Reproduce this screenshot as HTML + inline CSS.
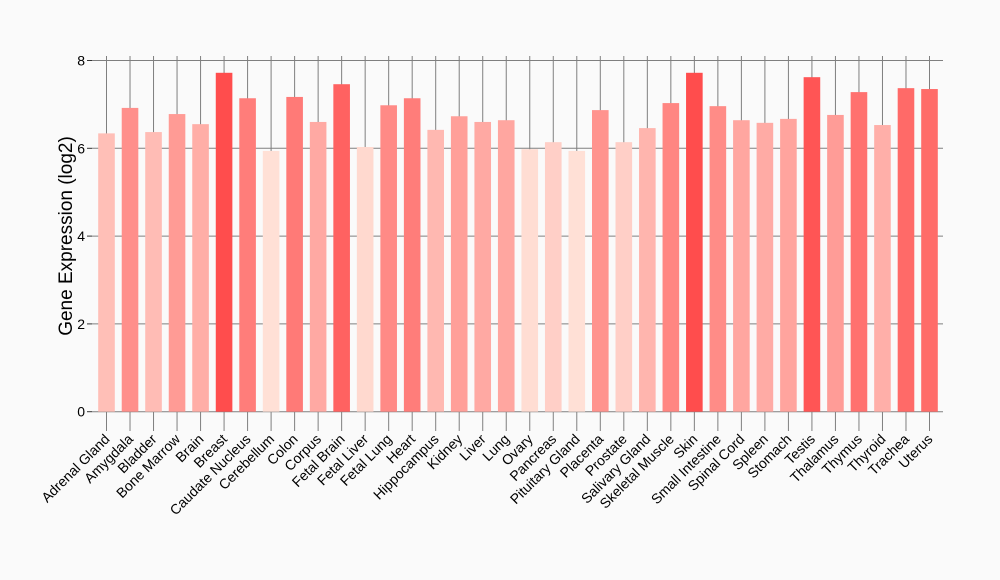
<!DOCTYPE html>
<html><head><meta charset="utf-8"><style>
html,body{margin:0;padding:0;background:#fafafa;}
svg{display:block;font-family:"Liberation Sans",Arial,sans-serif;}
</style></head><body>
<svg id="chart" width="1000" height="580">
<rect width="1000" height="580" fill="#fafafa"/>
<g id="grid"></g>
<g id="bars"></g>
<g id="yaxis"></g>
<g id="xaxis"></g>
<text x="72" y="236" transform="rotate(-90 72 236)" text-anchor="middle" font-size="19" fill="#000">Gene Expression (log2)</text>
</svg>
<script>
const categories=["Adrenal Gland","Amygdala","Bladder","Bone Marrow","Brain","Breast","Caudate Nucleus","Cerebellum","Colon","Corpus","Fetal Brain","Fetal Liver","Fetal Lung","Heart","Hippocampus","Kidney","Liver","Lung","Ovary","Pancreas","Pituitary Gland","Placenta","Prostate","Salivary Gland","Skeletal Muscle","Skin","Small Intestine","Spinal Cord","Spleen","Stomach","Testis","Thalamus","Thymus","Thyroid","Trachea","Uterus"];
const values=[6.34,6.92,6.37,6.78,6.55,7.72,7.14,5.94,7.17,6.6,7.46,6.03,6.98,7.14,6.42,6.73,6.6,6.64,5.98,6.14,5.94,6.87,6.14,6.46,7.03,7.72,6.96,6.64,6.58,6.67,7.62,6.76,7.28,6.53,7.37,7.35];
const yTicks=[0,2,4,6,8];
const NS="http://www.w3.org/2000/svg";
const x0=92,x1=943,y0=411.7,yTop=60.5,yMax=8;
const firstC=106.5,lastC=929.5;
const step=(lastC-firstC)/(categories.length-1);
function xs(i){return firstC+step*i;}
function ys(v){return y0-(v/yMax)*(y0-yTop);}
function mk(tag,attrs,parent){const e=document.createElementNS(NS,tag);for(const k in attrs)e.setAttribute(k,attrs[k]);parent.appendChild(e);return e;}
const grid=document.getElementById('grid'),bars=document.getElementById('bars'),ya=document.getElementById('yaxis'),xa=document.getElementById('xaxis');
yTicks.forEach(t=>{
  const l=mk('line',{x1:x0,x2:x1,y1:ys(t),y2:ys(t),stroke:'#7f7f7f','stroke-width':1},grid);
  
  
  const tk=mk('line',{x1:x0-5,x2:x0,y1:ys(t),y2:ys(t),stroke:'#333','stroke-width':1},ya);
  
  
  const tx=mk('text',{x:x0-7,y:ys(t)+5,'text-anchor':'end','font-size':14,fill:'#000'},ya);
  tx.textContent=t;
  
  
});
const vmin=Math.min(...values),vmax=Math.max(...values);
categories.forEach((c,i)=>{
  const x=xs(i);
  const vl=mk('line',{x1:x,x2:x,y1:56,y2:431,stroke:'#7f7f7f','stroke-width':1},grid);
  
  
  const t=(values[i]-vmin)/(vmax-vmin||1);
  const g=Math.round(224-t*(224-77)),b=Math.round(214-t*(214-77));
  const r=mk('rect',{x:x-8.3,y:ys(values[i]),width:16.6,height:y0-ys(values[i]),fill:`rgb(255,${g},${b})`},bars);
  
  
  const lb=mk('text',{x:x+4,y:440,'text-anchor':'end','font-size':14,fill:'#000',transform:`rotate(-45 ${x+4} 440)`},xa);
  lb.textContent=c;
  
  
});
</script>
</body></html>
